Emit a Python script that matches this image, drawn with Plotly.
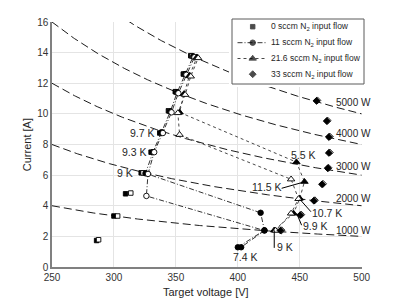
import numpy as np
import plotly.graph_objects as go

# ---------------- data ----------------
power_levels = [1000, 2000, 3000, 4000, 5000]
power_labels = ["1000 W", "2000 W", "3000 W", "4000 W", "5000 W"]
power_label_V = [493, 493, 493, 493, 493]
power_label_I = [2.41, 4.49, 6.57, 8.75, 10.75]

# 0 sccm N2 (squares) - increasing power (filled) / decreasing power (open)
v0_up = [286.0, 300.0, 309.4, 322.0, 330.0, 337.0, 344.0, 349.5, 356.0, 362.0]
i0_up = [1.73, 3.33, 4.78, 6.15, 7.50, 8.75, 10.20, 11.45, 12.60, 13.80]
v0_down = [287.6, 303.0, 313.6, 323.5, 331.5, 338.5, 345.0, 350.5, 357.0, 363.0]
i0_down = [1.78, 3.33, 4.83, 6.15, 7.50, 8.78, 10.18, 11.42, 12.60, 13.78]

# 11 sccm N2 (circles, dash-dot path)
v11_up = [400.0, 421.5, 418.4, 325.5, 331.5, 338.5, 345.5, 351.0, 357.5, 364.0]
i11_up = [1.29, 2.40, 3.54, 6.12, 7.50, 8.80, 10.15, 11.40, 12.60, 13.75]
v11_down = [365.0, 358.5, 352.0, 346.5, 339.5, 332.5, 327.5, 326.2, 421.5, 402.7]
i11_down = [13.70, 12.55, 11.35, 10.10, 8.75, 7.50, 6.08, 4.64, 2.38, 1.29]

# 21.6 sccm N2 (triangles, dotted path)
v216_up = [429.4, 445.0, 450.0, 453.8, 447.3, 353.0, 356.5, 361.0, 367.0]
i216_up = [2.40, 3.50, 4.48, 5.57, 6.85, 10.10, 11.30, 12.50, 13.70]
v216_down = [368.0, 362.0, 357.5, 351.6, 353.0, 443.0, 449.0, 443.0, 430.5]
i216_down = [13.65, 12.45, 11.25, 10.06, 8.64, 5.73, 4.45, 3.50, 2.38]

# 33 sccm N2 (diamonds)
v33_up = [434.5, 450.4, 461.4, 468.0, 472.6, 473.5, 473.5, 471.8, 463.5]
i33_up = [2.38, 3.39, 4.33, 5.40, 6.45, 7.45, 8.49, 9.53, 10.85]
v33_down = [435.3, 451.2, 462.2, 468.8, 473.2, 474.2, 474.2, 472.5, 464.2]
i33_down = [2.40, 3.42, 4.36, 5.43, 6.48, 7.48, 8.52, 9.56, 10.88]

# text labels
k_labels = ["9.7 K", "9.3 K", "9 K", "7.4 K", "9 K", "9.9 K", "10.7 K", "11.5 K", "5.5 K"]
k_label_V = [322.9, 316.2, 308.7, 406.4, 438.3, 462.4, 472.1, 423.2, 452.8]
k_label_I = [8.74, 7.50, 6.11, 0.66, 1.31, 2.67, 3.54, 5.21, 7.32]

# leader lines (from point to label)
leader_V0 = [429.4, 447.5, 450.1, 454.2]
leader_I0 = [2.40, 3.50, 4.42, 5.57]
leader_V1 = [429.4, 451.5, 459.0, 435.4]
leader_I1 = [1.25, 2.73, 3.61, 5.14]

legend_names = [
    "0 sccm N<sub>2</sub> input flow",
    "11 sccm N<sub>2</sub> input flow",
    "21.6 sccm N<sub>2</sub> input flow",
    "33 sccm N<sub>2</sub> input flow",
]

# ---------------- figure geometry (figure pixels; page has an 8px body margin) ----------------
W, H = 391, 291
ML, MR, MT, MB = 44, 29, 6, 32
PW, PH = W - ML - MR, H - MT - MB
PLOT_RIGHT, PLOT_TOP = 353.7, 14.0


def px_x(p):
    return (p - ML) / PW


def px_y(p):
    return (H - MB - p) / PH


FONT = "Liberation Sans, Arial, sans-serif"
DASHDOT = "5px,2px,1px,2px"
fig = go.Figure()

# constant power curves
v_grid = np.linspace(250, 500, 400)
for P in power_levels:
    fig.add_trace(go.Scatter(x=v_grid, y=P / v_grid, mode="lines",
                             line=dict(color="black", width=0.9, dash="8px,4px"),
                             hoverinfo="skip", showlegend=False))

black, white = "black", "white"

# 0 sccm
fig.add_trace(go.Scatter(
    x=v0_up + v0_down, y=i0_up + i0_down, mode="markers",
    marker=dict(symbol="square", size=4.5,
                color=[black] * len(v0_up) + [white] * len(v0_down),
                line=dict(color=black, width=0.9)),
    showlegend=False))

# 11 sccm (last two return points drawn filled, as in the reference)
c11 = [black] * len(v11_up) + [white] * (len(v11_down) - 2) + [black] * 2
fig.add_trace(go.Scatter(
    x=v11_up + v11_down, y=i11_up + i11_down, mode="lines+markers",
    line=dict(color=black, width=0.8, dash=DASHDOT),
    marker=dict(symbol="circle", size=5.5, color=c11,
                line=dict(color=black, width=0.9)),
    showlegend=False))

# 21.6 sccm
fig.add_trace(go.Scatter(
    x=v216_up + v216_down, y=i216_up + i216_down, mode="lines+markers",
    line=dict(color="#333333", width=0.9, dash="dot"),
    marker=dict(symbol="triangle-up", size=6.5,
                color=[black] * len(v216_up) + [white] * len(v216_down),
                line=dict(color=black, width=0.9)),
    showlegend=False))

# 33 sccm
fig.add_trace(go.Scatter(
    x=v33_down + v33_up, y=i33_down + i33_up, mode="markers",
    marker=dict(symbol="diamond", size=5.3,
                color=[white] * len(v33_down) + [black] * len(v33_up),
                line=dict(color=black, width=0.9)),
    showlegend=False))

# ---------------- manual legend (own small subplot) ----------------
LX0, LX1, LY0, LY1 = 221, 359, 8, 79
box_x = [224, 356, 356, 224, 224]
box_y = [11, 11, 76, 76, 11]
item_y = [18.7, 34.7, 50.5, 66.2]
sym_x, line_x0, line_x1 = 244.7, 229.5, 258.7

fig.add_trace(go.Scatter(x=box_x, y=box_y, xaxis="x2", yaxis="y2", mode="lines",
                         fill="toself", fillcolor="white",
                         line=dict(color="#5a5a5a", width=1), hoverinfo="skip",
                         showlegend=False))
fig.add_trace(go.Scatter(x=[line_x0, line_x1], y=[item_y[1]] * 2, xaxis="x2", yaxis="y2",
                         mode="lines", line=dict(color=black, width=0.8, dash=DASHDOT),
                         showlegend=False, hoverinfo="skip"))
fig.add_trace(go.Scatter(x=[line_x0, line_x1], y=[item_y[2]] * 2, xaxis="x2", yaxis="y2",
                         mode="lines", line=dict(color="#333333", width=0.9, dash="dot"),
                         showlegend=False, hoverinfo="skip"))
fig.add_trace(go.Scatter(x=[sym_x] * 4, y=item_y, xaxis="x2", yaxis="y2", mode="markers",
                         marker=dict(symbol=["square", "circle", "triangle-up", "diamond"],
                                     size=[4.5, 5.5, 6.5, 5.3], color=black,
                                     line=dict(color=black, width=0.9)),
                         showlegend=False, hoverinfo="skip", cliponaxis=False))

annotations = []
for name, y in zip(legend_names, item_y):
    annotations.append(dict(x=260.5, y=y, xref="x2", yref="y2", text=name, showarrow=False,
                            xanchor="left", yanchor="middle",
                            font=dict(family=FONT, size=8.5, color="#262626")))

for t, v, i in zip(power_labels, power_label_V, power_label_I):
    annotations.append(dict(x=v, y=i, xref="x", yref="y", text=t, showarrow=False,
                            xanchor="center", yanchor="middle",
                            font=dict(family=FONT, size=10, color="#262626")))

for t, v, i in zip(k_labels, k_label_V, k_label_I):
    annotations.append(dict(x=v, y=i, xref="x", yref="y", text=t, showarrow=False,
                            xanchor="center", yanchor="middle",
                            font=dict(family=FONT, size=10.5, color="#262626")))

# axis titles (placed exactly)
annotations.append(dict(x=px_x(197.5), y=px_y(283.7), xref="paper", yref="paper",
                        text="Target voltage [V]", showarrow=False,
                        xanchor="center", yanchor="middle",
                        font=dict(family=FONT, size=11, color="#262626")))
annotations.append(dict(x=px_x(18.7), y=px_y(136.5), xref="paper", yref="paper",
                        text="Current [A]", showarrow=False, textangle=-90,
                        xanchor="center", yanchor="middle",
                        font=dict(family=FONT, size=11, color="#262626")))

shapes = []
for a, b, c, d in zip(leader_V0, leader_I0, leader_V1, leader_I1):
    shapes.append(dict(type="line", xref="x", yref="y", x0=a, y0=b, x1=c, y1=d,
                       line=dict(color=black, width=1)))

fig.update_layout(
    width=W, height=H,
    margin=dict(l=ML, r=MR, t=MT, b=MB, pad=0),
    paper_bgcolor="white", plot_bgcolor="white",
    font=dict(family=FONT, size=10, color="#262626"),
    showlegend=False,
    annotations=annotations,
    shapes=shapes,
    xaxis=dict(domain=[0, px_x(PLOT_RIGHT)], range=[250, 500],
               tickvals=[250, 300, 350, 400, 450, 500],
               showgrid=True, gridcolor="#e4e4e4", gridwidth=1, zeroline=False,
               showline=True, linecolor="#808080", linewidth=1.5, ticks="",
               tickfont=dict(size=10, color="#333333"), automargin=False),
    yaxis=dict(domain=[0, px_y(PLOT_TOP)], range=[0, 16], tickvals=list(range(0, 17, 2)),
               showgrid=True, gridcolor="#e4e4e4", gridwidth=1, zeroline=False,
               showline=True, linecolor="#808080", linewidth=1.5, ticks="",
               tickfont=dict(size=10, color="#333333"), automargin=False),
    xaxis2=dict(domain=[px_x(LX0), px_x(LX1)], range=[LX0, LX1], visible=False,
                anchor="y2", fixedrange=True),
    yaxis2=dict(domain=[px_y(LY1), px_y(LY0)], range=[LY1, LY0], visible=False,
                anchor="x2", fixedrange=True),
)

fig.write_html("out.html")
